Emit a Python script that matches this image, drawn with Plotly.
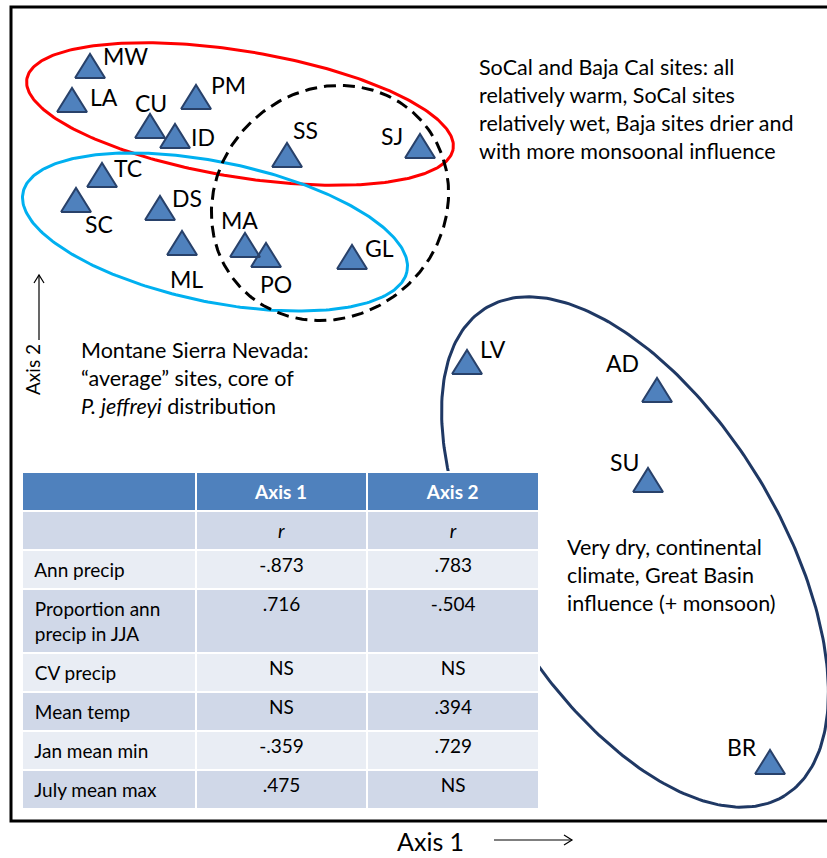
import numpy as np
import plotly.graph_objects as go

W, H = 827, 858
FONT = "Lato"

# ---- site scores on the two ordination axes (arbitrary units) ----
sites = ["MW", "LA", "CU", "ID", "PM", "SS", "SJ", "TC", "SC",
         "DS", "ML", "MA", "PO", "GL", "LV", "AD", "SU", "BR"]
axis1 = [90, 72, 150, 175, 196, 287, 420, 102, 76,
         160, 182, 245, 266, 352, 467, 657, 648, 770]
axis2 = [792, 758, 732, 722, 761, 703, 712, 683, 658,
         650, 615, 613, 603, 601, 496, 468, 378, 96]

# ---- correlation table ----
variables = ["", "Ann precip", "Proportion ann<br>precip in JJA", "CV precip",
             "Mean temp", "Jan mean min", "July mean max"]
r_axis1 = ["<i>r</i>", "-.873", ".716", "NS", "NS", "-.359", ".475"]
r_axis2 = ["<i>r</i>", ".783", "-.504", "NS", ".394", ".729", "NS"]

# ---- group notes ----
note_socal = ("SoCal and Baja Cal sites: all<br>relatively warm, SoCal sites<br>"
              "relatively wet, Baja sites drier and<br>with more monsoonal influence")
note_sierra = ("Montane Sierra Nevada:<br>\u201caverage\u201d sites, core of<br>"
               "<i>P. jeffreyi</i> distribution")
note_basin = "Very dry, continental<br>climate, Great Basin<br>influence (+ monsoon)"

# label offsets from the triangle (px, right / down)
label_off = {"MW": (35, -10), "LA": (32, -3), "CU": (1, -23), "ID": (28, 1),
             "PM": (32, -12), "SS": (18, -25), "SJ": (-28, -10), "TC": (26, -7),
             "SC": (23, 24), "DS": (27, -10), "ML": (4, 36), "MA": (-6, -25),
             "PO": (10, 29), "GL": (27, -9), "LV": (26, -13), "AD": (-35, -27),
             "SU": (-24, -18), "BR": (-28, -15)}


def ellipse(cx, cy, a, b, phi, n=300):
    t = np.linspace(0, 2 * np.pi, n)
    p = np.radians(phi)
    x = cx + a * np.cos(t) * np.cos(p) - b * np.sin(t) * np.sin(p)
    y = cy + a * np.cos(t) * np.sin(p) + b * np.sin(t) * np.cos(p)
    return x, y


fig = go.Figure()

# group outlines
groups = [
    (240, 744, 216, 63, -9.3, "#FF0000", "solid"),
    (215, 626, 196, 70, -11.6, "#00B0F0", "solid"),
    (330, 655, 123, 113, 42.2, "black", "12px,7px"),
    (635, 306, 286, 144, -58.5, "#1F3864", "solid"),
]
for cx, cy, a, b, phi, col, dash in groups:
    ex, ey = ellipse(cx, cy, a, b, phi)
    fig.add_trace(go.Scatter(x=ex, y=ey, mode="lines",
                             line=dict(color=col, width=3, dash=dash),
                             hoverinfo="skip", showlegend=False))

# triangles for sites
tx, ty = [], []
for x, y in zip(axis1, axis2):
    tx += [x - 15, x + 15, x, x - 15, None]
    ty += [y - 12, y - 12, y + 12, y - 12, None]
fig.add_trace(go.Scatter(x=tx, y=ty, mode="lines", fill="toself",
                         fillcolor="#4F81BD",
                         line=dict(color="#28416A", width=2),
                         hoverinfo="skip", showlegend=False))

for s, x, y in zip(sites, axis1, axis2):
    dx, dy = label_off[s]
    fig.add_annotation(x=x, y=y, text=s, showarrow=False, xshift=dx, yshift=-dy,
                       font=dict(family=FONT, size=23, color="black"))

# table
rows = len(variables)
band = ["#D0D8E8" if i % 2 == 0 else "#E9EDF4" for i in range(rows)]
fig.add_trace(go.Table(
    domain=dict(x=[22 / W, 539 / W], y=[0, (H - 472) / H]),
    columnwidth=[173, 171, 171],
    header=dict(values=["", "<b>Axis 1</b>", "<b>Axis 2</b>"],
                fill_color="#4F81BD", align="center", height=34,
                line=dict(color="white", width=2),
                font=dict(family=FONT, size=19, color="white")),
    cells=dict(values=[["&nbsp;" + v.replace("<br>", "<br>&nbsp;") if v else v
                        for v in variables], r_axis1, r_axis2],
               fill_color=[band, band, band], align=["left", "center", "center"],
               height=37, line=dict(color="white", width=2),
               font=dict(family=FONT, size=19, color="black")),
))

# notes
fig.add_annotation(x=477, y=H - 109, text=note_socal, showarrow=False,
                   xanchor="left", yanchor="middle", align="left",
                   font=dict(family=FONT, size=21.5, color="black"))
fig.add_annotation(x=79, y=H - 378, text=note_sierra, showarrow=False,
                   xanchor="left", yanchor="middle", align="left",
                   font=dict(family=FONT, size=21.5, color="black"))
fig.add_annotation(x=565, y=H - 575, text=note_basin, showarrow=False,
                   xanchor="left", yanchor="middle", align="left",
                   font=dict(family=FONT, size=21.5, color="black"))

# axis labels and arrows
fig.add_annotation(x=430, y=H - 841, text="Axis 1", showarrow=False,
                   font=dict(family=FONT, size=25, color="black"))
fig.add_annotation(x=32, y=H - 370, text="Axis 2", showarrow=False, textangle=-90,
                   font=dict(family=FONT, size=19, color="black"))
arrow = dict(color="black", width=1.2)
fig.add_shape(type="line", x0=494, x1=572, y0=H - 840, y1=H - 840, line=arrow)
fig.add_shape(type="path", path=f"M 564 {H-835} L 572 {H-840} L 564 {H-845}", line=arrow)
fig.add_shape(type="line", x0=39, x1=39, y0=H - 340, y1=H - 275, line=arrow)
fig.add_shape(type="path", path=f"M 34 {H-283} L 39 {H-275} L 44 {H-283}", line=arrow)

# frame
fig.add_shape(type="rect", x0=11, x1=840, y0=H - 821, y1=H - 7,
              line=dict(color="black", width=3))

fig.update_layout(
    width=W, height=H, margin=dict(l=0, r=0, t=0, b=0),
    plot_bgcolor="white", paper_bgcolor="white",
    xaxis=dict(range=[0, W], visible=False),
    yaxis=dict(range=[0, H], visible=False),
)

# the page body has a default 8px margin; drop it so the figure fills the window
fig.write_html("out.html", config={"displayModeBar": False},
               post_script="document.body.style.margin = '0';")
